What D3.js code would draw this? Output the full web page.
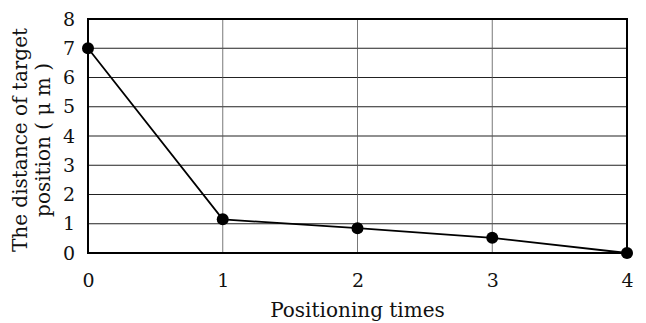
<!DOCTYPE html>
<html>
<head>
<meta charset="utf-8">
<script src="https://cdn.jsdelivr.net/npm/d3@7"></script>
<style>
  body { margin: 0; background: #fff; }
  text { font-family: "DejaVu Serif", "Liberation Serif", serif; fill: #111; }
</style>
</head>
<body>
<div id="chart"></div>
<script>
// positioning attempts and distance from target (um)
var times = [0, 1, 2, 3, 4];
var distance = [7, 1.15, 0.85, 0.52, 0];
var yTicks = [0, 1, 2, 3, 4, 5, 6, 7, 8];
var xTicks = [0, 1, 2, 3, 4];

var width = 646, height = 323;
var margin = { top: 19, right: 19, bottom: 70, left: 88 };
var w = width - margin.left - margin.right,
    h = height - margin.top - margin.bottom;
var serif = "'DejaVu Serif', 'Liberation Serif', serif";

var svg = d3.select("#chart").append("svg")
  .attr("width", width)
  .attr("height", height);

var g = svg.append("g")
  .attr("transform", "translate(" + margin.left + "," + margin.top + ")");

var x = d3.scaleLinear().domain([0, 4]).range([0, w]);
var y = d3.scaleLinear().domain([0, 8]).range([h, 0]);

// horizontal grid
g.selectAll(".hgrid")
  .data(yTicks)
  .enter().append("line")
  .attr("x1", 0).attr("x2", w)
  .attr("y1", function (d) { return y(d); })
  .attr("y2", function (d) { return y(d); })
  .attr("stroke", "#222")
  .attr("stroke-width", 1.2);

// vertical grid (lighter)
g.selectAll(".vgrid")
  .data(xTicks)
  .enter().append("line")
  .attr("x1", function (d) { return x(d); })
  .attr("x2", function (d) { return x(d); })
  .attr("y1", 0).attr("y2", h)
  .attr("stroke", "#555")
  .attr("stroke-width", 0.8);

// frame
g.append("rect")
  .attr("width", w).attr("height", h)
  .attr("fill", "none")
  .attr("stroke", "#000")
  .attr("stroke-width", 2);

// y axis
var yAxis = g.append("g")
  .call(d3.axisLeft(y).tickValues(yTicks).tickSize(0).tickPadding(13).tickFormat(d3.format("d")));
yAxis.select(".domain").remove();
yAxis.selectAll("text")
  .style("font-size", "19px")
  .style("font-family", serif)
  .attr("fill", "#111");

// x axis
var xAxis = g.append("g")
  .attr("transform", "translate(0," + h + ")")
  .call(d3.axisBottom(x).tickValues(xTicks).tickSize(0).tickPadding(21).tickFormat(d3.format("d")));
xAxis.select(".domain").remove();
xAxis.selectAll("text")
  .style("font-size", "19px")
  .style("font-family", serif)
  .attr("fill", "#111");

// line
var pts = times.map(function (t, i) { return { t: t, v: distance[i] }; });
var line = d3.line()
  .x(function (d) { return x(d.t); })
  .y(function (d) { return y(d.v); });

g.append("path")
  .attr("d", line(pts))
  .attr("fill", "none")
  .attr("stroke", "#000")
  .attr("stroke-width", 1.8);

g.selectAll(".dot")
  .data(pts)
  .enter().append("circle")
  .attr("cx", function (d) { return x(d.t); })
  .attr("cy", function (d) { return y(d.v); })
  .attr("r", 6)
  .attr("fill", "#000");

// axis titles
svg.append("text")
  .attr("x", margin.left + w / 2)
  .attr("y", 317)
  .attr("text-anchor", "middle")
  .style("font-size", "20px")
  .text("Positioning times");

var yTitle = svg.append("text")
  .attr("transform", "translate(0," + (margin.top + h / 2 + 4) + ") rotate(-90)")
  .attr("text-anchor", "middle")
  .style("font-size", "20px");
yTitle.append("tspan").attr("x", 0).attr("y", 27).text("The distance of target");
yTitle.append("tspan").attr("x", 0).attr("y", 50).text("position ( \u03bc m )");
</script>
</body>
</html>
